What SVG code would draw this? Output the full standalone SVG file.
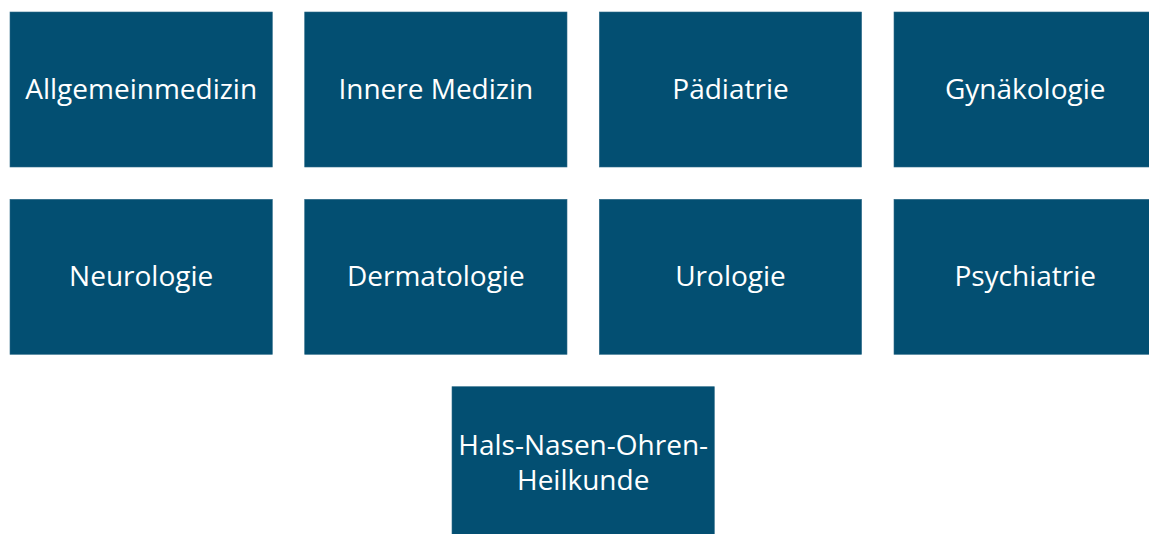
<svg xmlns="http://www.w3.org/2000/svg" width="1149" height="534" viewBox="0 0 1149 534">
<style>
.box{fill:#034f72;stroke:#2c6a88;stroke-width:0.6}
.lbl{font-family:"Open Sans","Noto Sans",sans-serif;font-size:28px;fill:#ffffff;text-anchor:middle}
</style>
<rect width="1149" height="534" fill="#ffffff"/>
<g id="connectors"></g>
<g id="n1"><rect class="box" x="10" y="12" width="262.3" height="155"/><text class="lbl" x="141.2" y="99">Allgemeinmedizin</text></g>
<g id="n2"><rect class="box" x="304.7" y="12" width="262.3" height="155"/><text class="lbl" x="435.8" y="99">Innere Medizin</text></g>
<g id="n3"><rect class="box" x="599.3" y="12" width="262.3" height="155"/><text class="lbl" x="730.5" y="99">Pädiatrie</text></g>
<g id="n4"><rect class="box" x="894" y="12" width="262.3" height="155"/><text class="lbl" x="1025.2" y="99">Gynäkologie</text></g>
<g id="n5"><rect class="box" x="10" y="199.3" width="262.3" height="155"/><text class="lbl" x="141.2" y="286">Neurologie</text></g>
<g id="n6"><rect class="box" x="304.7" y="199.3" width="262.3" height="155"/><text class="lbl" x="435.8" y="286">Dermatologie</text></g>
<g id="n7"><rect class="box" x="599.3" y="199.3" width="262.3" height="155"/><text class="lbl" x="730.5" y="286">Urologie</text></g>
<g id="n8"><rect class="box" x="894" y="199.3" width="262.3" height="155"/><text class="lbl" x="1025.2" y="286">Psychiatrie</text></g>
<g id="n9"><rect class="box" x="452" y="386.7" width="262.3" height="155"/><text class="lbl" x="583.2" y="455">Hals-Nasen-Ohren-</text><text class="lbl" x="583.2" y="490">Heilkunde</text></g>
</svg>
